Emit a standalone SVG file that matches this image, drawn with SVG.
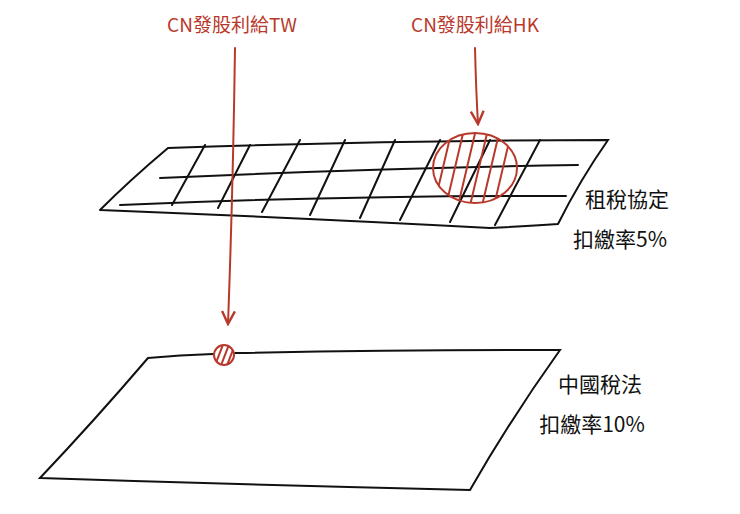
<svg xmlns="http://www.w3.org/2000/svg" width="740" height="514" viewBox="0 0 740 514">
<style>
.k{fill:none;stroke:#111;stroke-width:2;stroke-linecap:round}
.r{fill:none;stroke:#b8392b;stroke-width:2;stroke-linecap:round}
.tr{font-family:"Noto Sans CJK TC","Liberation Sans",sans-serif;font-size:19px;fill:#b8392b}
.tk{font-family:"Noto Sans CJK TC","Liberation Sans",sans-serif;font-size:21px;fill:#111}
</style>
<defs>
<marker id="a" viewBox="0 0 10 10" refX="9" refY="5" markerWidth="8" markerHeight="8" orient="auto"><path d="M1,1 L9,5 L1,9" fill="none" stroke="#b8392b" stroke-width="1.5"/></marker>
<clipPath id="c1"><ellipse cx="475" cy="168" rx="42" ry="35"/></clipPath>
<clipPath id="c2"><circle cx="224" cy="355" r="10"/></clipPath>
</defs>
<rect width="740" height="514" fill="#fff"/>
<g id="upper">
<path class="k" d="M168,148 Q390,140 608,140 Q580,180 558,224 M100,210 Q300,218 490,228 Q530,226 558,224 M168,148 Q130,180 100,210"/>
<path class="k" d="M160,178 Q380,168 578,165 M120,205 Q350,195 566,196"/>
<path class="k" d="M205,145 L172,205 M250,145 L218,208 M300,140 L262,212 M345,140 L310,215 M395,140 L360,218 M440,140 L400,220 M490,140 L450,222 M540,140 L495,225"/>
</g>
<g id="hk">
<ellipse cx="475" cy="168" rx="42" ry="35" class="r"/>
<g clip-path="url(#c1)" class="r"><path d="M445,210 L465,125 M457,210 L477,125 M469,210 L489,125 M481,210 L501,125 M493,210 L513,125 M433,210 L453,125"/></g>
</g>
<g id="lower">
<path class="k" d="M148,358 Q180,355 213,354 M235,353 Q400,350 560,350 Q510,420 470,490 Q250,485 40,478 Q95,420 148,358"/>
</g>
<g id="tw">
<circle cx="224" cy="355" r="10" class="r"/>
<g clip-path="url(#c2)" class="r"><path d="M214,368 L224,342 M220,368 L230,342 M226,368 L236,342"/></g>
</g>
<g id="connectors">
<path class="r" d="M235,48 Q233,190 228,324" marker-end="url(#a)"/>
<path class="r" d="M475,48 Q476,90 478,124" marker-end="url(#a)"/>
</g>
<text class="tr" x="232" y="32" text-anchor="middle">CN發股利給TW</text>
<text class="tr" x="475" y="32" text-anchor="middle">CN發股利給HK</text>
<text class="tk" x="627" y="207" text-anchor="middle">租稅協定</text>
<text class="tk" x="620" y="247" text-anchor="middle">扣繳率5%</text>
<text class="tk" x="600" y="392" text-anchor="middle">中國稅法</text>
<text class="tk" x="592" y="432" text-anchor="middle">扣繳率10%</text>
</svg>
